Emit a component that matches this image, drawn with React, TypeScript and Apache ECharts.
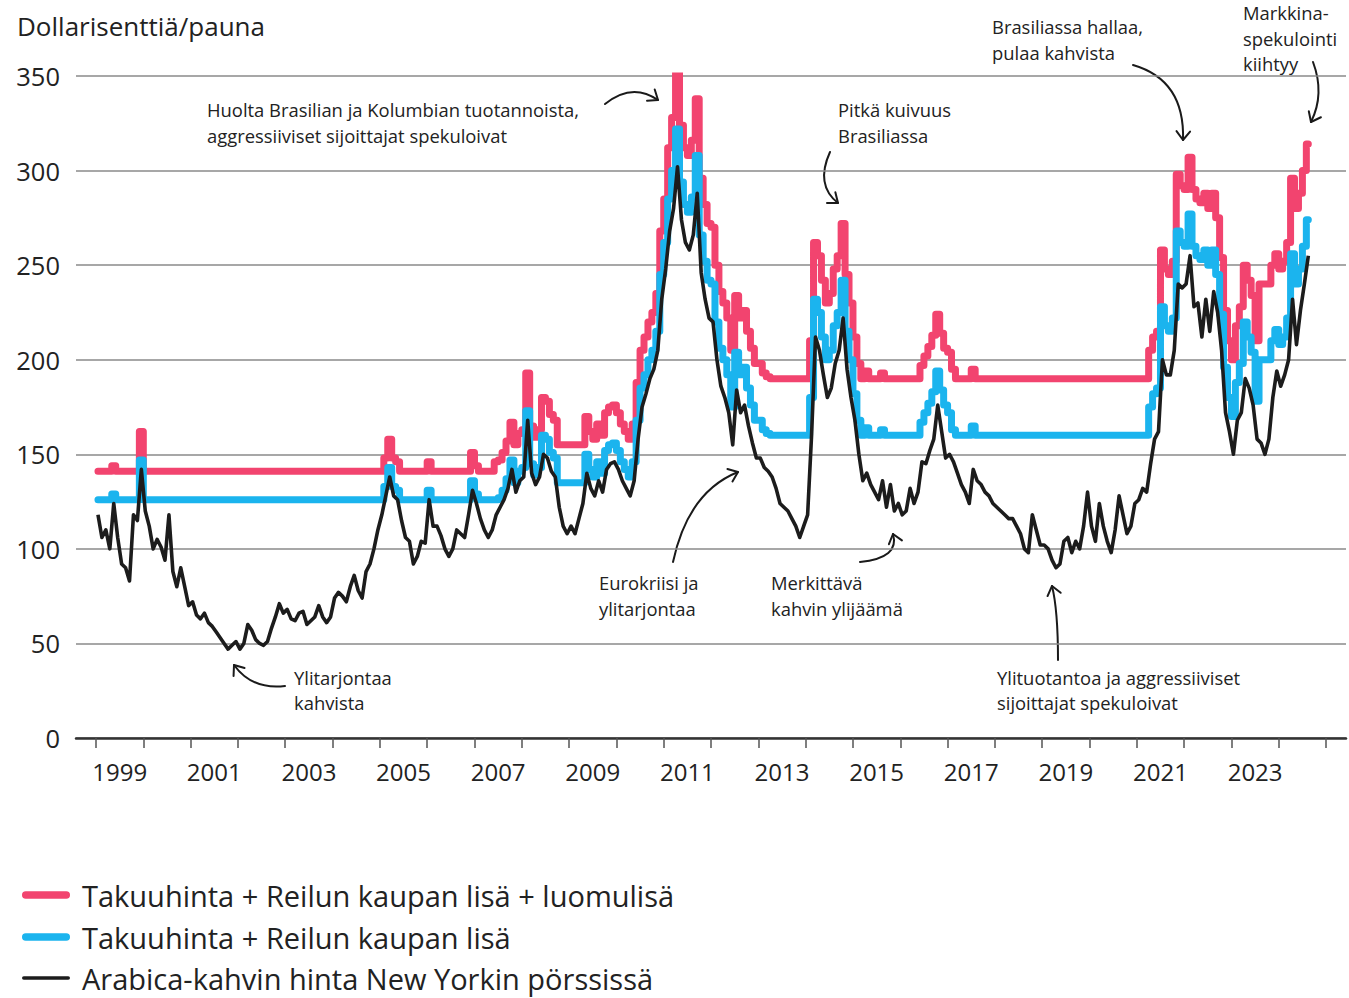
import React, { useEffect, useRef } from "react";
import * as echarts from "echarts";

// ---- data (cents per pound), monthly from January 1999 ----
const startYear = 1999;

const arabica = [
  118, 106, 110, 100, 124, 106, 92, 90, 83, 118, 115, 142, // 1999
  120, 112, 100, 105, 101, 94, 118, 88, 80, 90, 80, 70, // 2000
  72, 65, 63, 66, 61, 59, 56, 53, 50, 47, 49, 51, // 2001
  47, 50, 60, 57, 52, 50, 49, 51, 58, 64, 71, 66, // 2002
  68, 63, 62, 66, 67, 60, 62, 64, 70, 64, 61, 64, // 2003
  74, 77, 75, 72, 80, 86, 78, 74, 88, 92, 100, 110, // 2004
  118, 128, 138, 128, 126, 115, 106, 104, 92, 96, 104, 103, // 2005
  126, 112, 112, 107, 100, 96, 100, 110, 108, 106, 118, 131, // 2006
  124, 116, 110, 106, 110, 118, 122, 126, 132, 142, 130, 136, // 2007
  138, 168, 140, 134, 138, 150, 148, 141, 138, 122, 112, 108, // 2008
  112, 108, 116, 124, 140, 132, 128, 136, 130, 142, 145, 146, // 2009
  142, 136, 132, 128, 136, 158, 175, 182, 190, 195, 205, 232, // 2010
  248, 268, 280, 302, 274, 262, 258, 266, 288, 246, 232, 222, // 2011
  220, 200, 186, 180, 172, 155, 184, 172, 176, 165, 156, 148, // 2012
  148, 143, 141, 138, 132, 124, 122, 120, 116, 112, 106, 112, // 2013
  118, 160, 212, 205, 192, 180, 185, 198, 205, 222, 195, 180, // 2014
  168, 150, 136, 140, 134, 130, 126, 136, 122, 134, 120, 124, // 2015
  118, 120, 132, 124, 130, 146, 145, 152, 158, 176, 162, 148, // 2016
  150, 146, 140, 134, 130, 124, 142, 136, 134, 130, 128, 124, // 2017
  122, 120, 118, 116, 116, 112, 108, 100, 98, 118, 110, 102, // 2018
  102, 100, 94, 90, 92, 104, 106, 98, 104, 100, 112, 130, // 2019
  112, 104, 124, 112, 104, 98, 110, 128, 118, 108, 112, 124, // 2020
  126, 132, 130, 145, 158, 162, 200, 192, 192, 205, 240, 238, // 2021
  240, 255, 228, 230, 212, 232, 215, 236, 225, 205, 172, 162, // 2022
  150, 168, 172, 190, 185, 176, 158, 156, 150, 158, 180, 194, // 2023
  186, 192, 200, 232, 208, 226, 240, 255, // 2024
];

const fairtrade = [
  126, 126, 126, 126, 129, 126, 126, 126, 126, 126, 126, 147, // 1999
  126, 126, 126, 126, 126, 126, 126, 126, 126, 126, 126, 126, // 2000
  126, 126, 126, 126, 126, 126, 126, 126, 126, 126, 126, 126, // 2001
  126, 126, 126, 126, 126, 126, 126, 126, 126, 126, 126, 126, // 2002
  126, 126, 126, 126, 126, 126, 126, 126, 126, 126, 126, 126, // 2003
  126, 126, 126, 126, 126, 126, 126, 126, 126, 126, 126, 126, // 2004
  126, 133, 143, 133, 131, 126, 126, 126, 126, 126, 126, 126, // 2005
  131, 126, 126, 126, 126, 126, 126, 126, 126, 126, 126, 136, // 2006
  129, 126, 126, 126, 126, 126, 127, 131, 137, 147, 135, 141, // 2007
  143, 173, 145, 139, 143, 160, 158, 151, 148, 135, 135, 135, // 2008
  135, 135, 135, 135, 150, 142, 138, 146, 140, 152, 155, 156, // 2009
  152, 146, 142, 138, 146, 168, 185, 192, 200, 205, 215, 245, // 2010
  262, 285, 300, 322, 294, 282, 278, 286, 308, 266, 252, 242, // 2011
  240, 220, 206, 200, 192, 175, 204, 192, 196, 185, 176, 168, // 2012
  168, 163, 161, 160, 160, 160, 160, 160, 160, 160, 160, 160, // 2013
  160, 180, 232, 225, 212, 200, 205, 218, 225, 242, 215, 200, // 2014
  182, 168, 160, 164, 160, 160, 160, 163, 160, 160, 160, 160, // 2015
  160, 160, 160, 160, 160, 167, 172, 177, 183, 194, 184, 176, // 2016
  172, 163, 160, 160, 160, 160, 165, 160, 160, 160, 160, 160, // 2017
  160, 160, 160, 160, 160, 160, 160, 160, 160, 160, 160, 160, // 2018
  160, 160, 160, 160, 160, 160, 160, 160, 160, 160, 160, 160, // 2019
  160, 160, 160, 160, 160, 160, 160, 160, 160, 160, 160, 160, // 2020
  160, 160, 160, 175, 182, 185, 228, 218, 215, 222, 268, 262, // 2021
  260, 277, 260, 255, 253, 258, 250, 258, 245, 224, 196, 180, // 2022
  170, 188, 198, 220, 212, 204, 178, 200, 200, 200, 210, 216, // 2023
  208, 212, 222, 256, 240, 248, 260, 274, // 2024
];

const fairtradeOrganic = [
  141, 141, 141, 141, 144, 141, 141, 141, 141, 141, 141, 162, // 1999
  141, 141, 141, 141, 141, 141, 141, 141, 141, 141, 141, 141, // 2000
  141, 141, 141, 141, 141, 141, 141, 141, 141, 141, 141, 141, // 2001
  141, 141, 141, 141, 141, 141, 141, 141, 141, 141, 141, 141, // 2002
  141, 141, 141, 141, 141, 141, 141, 141, 141, 141, 141, 141, // 2003
  141, 141, 141, 141, 141, 141, 141, 141, 141, 141, 141, 141, // 2004
  141, 148, 158, 148, 146, 141, 141, 141, 141, 141, 141, 141, // 2005
  146, 141, 141, 141, 141, 141, 141, 141, 141, 141, 141, 151, // 2006
  144, 141, 141, 141, 141, 146, 147, 151, 157, 167, 155, 161, // 2007
  163, 193, 165, 159, 163, 180, 178, 171, 168, 155, 155, 155, // 2008
  155, 155, 155, 155, 170, 162, 158, 166, 160, 172, 175, 176, // 2009
  172, 166, 162, 158, 166, 188, 205, 212, 220, 225, 235, 268, // 2010
  285, 312, 328, 352, 324, 312, 308, 316, 338, 296, 282, 272, // 2011
  270, 250, 236, 230, 222, 205, 234, 222, 226, 215, 206, 198, // 2012
  198, 193, 191, 190, 190, 190, 190, 190, 190, 190, 190, 190, // 2013
  190, 210, 262, 255, 242, 230, 235, 248, 255, 272, 245, 230, // 2014
  212, 198, 190, 194, 190, 190, 190, 193, 190, 190, 190, 190, // 2015
  190, 190, 190, 190, 190, 197, 202, 207, 213, 224, 214, 206, // 2016
  204, 195, 190, 190, 190, 190, 195, 190, 190, 190, 190, 190, // 2017
  190, 190, 190, 190, 190, 190, 190, 190, 190, 190, 190, 190, // 2018
  190, 190, 190, 190, 190, 190, 190, 190, 190, 190, 190, 190, // 2019
  190, 190, 190, 190, 190, 190, 190, 190, 190, 190, 190, 190, // 2020
  190, 190, 190, 205, 212, 215, 258, 248, 245, 252, 298, 292, // 2021
  290, 307, 290, 285, 283, 288, 280, 288, 275, 254, 226, 210, // 2022
  200, 218, 228, 250, 242, 234, 210, 240, 240, 240, 250, 256, // 2023
  248, 252, 262, 296, 280, 288, 300, 314, // 2024
];

// year bands for the tick axis (ticks at each year start, labels on odd years)
const tickYears = [
  "1996", "1997", "1998", "1999", "2000", "2001", "2002", "2003", "2004", "2005",
  "2006", "2007", "2008", "2009", "2010", "2011", "2012", "2013", "2014", "2015",
  "2016", "2017", "2018", "2019", "2020", "2021", "2022", "2023", "2024", "2025",
];
const labelledYears = [
  "1999", "2001", "2003", "2005", "2007", "2009", "2011", "2013", "2015", "2017",
  "2019", "2021", "2023",
];
const firstTickYear = "1999";

const seriesNames = [
  "Takuuhinta + Reilun kaupan lisä + luomulisä",
  "Takuuhinta + Reilun kaupan lisä",
  "Arabica-kahvin hinta New Yorkin pörssissä",
];
const unitLabel = "Dollarisenttiä/pauna";

// annotation text blocks: left x and vertical middle of the block
const annotations = [
  { lines: ["Huolta Brasilian ja Kolumbian tuotannoista,", "aggressiiviset sijoittajat spekuloivat"], x: 207, mid: 122.5 },
  { lines: ["Pitkä kuivuus", "Brasiliassa"], x: 838, mid: 122.5 },
  { lines: ["Brasiliassa hallaa,", "pulaa kahvista"], x: 992, mid: 39.5 },
  { lines: ["Markkina-", "spekulointi", "kiihtyy"], x: 1243, mid: 38 },
  { lines: ["Ylitarjontaa", "kahvista"], x: 294, mid: 690 },
  { lines: ["Eurokriisi ja", "ylitarjontaa"], x: 599, mid: 595.5 },
  { lines: ["Merkittävä", "kahvin ylijäämä"], x: 771, mid: 595.5 },
  { lines: ["Ylituotantoa ja aggressiiviset", "sijoittajat spekuloivat"], x: 997, mid: 690 },
];

// arrows: start, control, end (quadratic curves)
const arrows = [
  [605, 104, 632, 82, 658, 100],
  [830, 152, 815, 185, 838, 203],
  [1133, 65, 1185, 80, 1183, 140],
  [1313, 62, 1325, 94, 1311, 122],
  [285, 686, 252, 690, 234, 665],
  [673, 562, 688, 492, 738, 472],
  [860, 562, 900, 558, 893, 534],
  [1058, 660, 1058, 610, 1052, 586],
];

const COLORS = { pink: "#f2446f", blue: "#1bb4ee", black: "#1c1c1c" };
const FONT = "Open Sans";
const NOTE_SIZE = 18.4;
const NOTE_LH = 25.2;
const PX_PER_YEAR = 47.31;
const X0 = 96; // pixel of 1999 start
const GRID_LEFT = 76;
const GRID_RIGHT_PX = 1346;

function toSeries(values: number[]) {
  return values.map((v, i) => [startYear + (i + 0.5) / 12, v]);
}

function arrowHead(cx: number, cy: number, ex: number, ey: number) {
  const dx = ex - cx;
  const dy = ey - cy;
  const len = Math.sqrt(dx * dx + dy * dy) || 1;
  const ux = dx / len;
  const uy = dy / len;
  const L = 11;
  const a = (38 * Math.PI) / 180;
  const cos = Math.cos(a);
  const sin = Math.sin(a);
  const p1 = [ex - L * (ux * cos - uy * sin), ey - L * (uy * cos + ux * sin)];
  const p2 = [ex - L * (ux * cos + uy * sin), ey - L * (uy * cos - ux * sin)];
  return [p1, [ex, ey], p2];
}

export default function App() {
  const ref = useRef<HTMLDivElement>(null);

  useEffect(() => {
    if (!ref.current) return;
    const chart = echarts.init(ref.current, undefined, { renderer: "svg" });

    const xMin = 1999 - (X0 - GRID_LEFT) / PX_PER_YEAR;
    const xMax = 2025 + (GRID_RIGHT_PX - (X0 + 26 * PX_PER_YEAR)) / PX_PER_YEAR;
    const firstIdx = tickYears.indexOf(firstTickYear);
    const catLeft = X0 - firstIdx * PX_PER_YEAR;
    const catRight = 1349 - (catLeft + tickYears.length * PX_PER_YEAR);

    const graphics: any[] = [];
    annotations.forEach((a) => {
      const n = a.lines.length;
      a.lines.forEach((line, i) => {
        graphics.push({
          type: "text",
          x: a.x,
          y: a.mid + (i - (n - 1) / 2) * NOTE_LH,
          silent: true,
          style: {
            text: line,
            font: `${NOTE_SIZE}px "${FONT}"`,
            fill: "#222",
            verticalAlign: "middle",
            align: "left",
          },
        });
      });
    });
    arrows.forEach((p) => {
      graphics.push({
        type: "bezierCurve",
        silent: true,
        shape: { x1: p[0], y1: p[1], cpx1: p[2], cpy1: p[3], x2: p[4], y2: p[5] },
        style: { stroke: "#1a1a1a", lineWidth: 2, fill: null, lineCap: "round" },
      });
      graphics.push({
        type: "polyline",
        silent: true,
        shape: { points: arrowHead(p[2], p[3], p[4], p[5]) },
        style: { stroke: "#1a1a1a", lineWidth: 2, fill: null, lineCap: "round", lineJoin: "round" },
      });
    });
    const legendRows = [
      { name: seriesNames[0], color: COLORS.pink, w: 7.5, y: 895 },
      { name: seriesNames[1], color: COLORS.blue, w: 7.5, y: 937 },
      { name: seriesNames[2], color: COLORS.black, w: 3.5, y: 978 },
    ];
    legendRows.forEach((r) => {
      graphics.push({
        type: "line",
        silent: true,
        shape: { x1: 22 + r.w / 2, y1: r.y, x2: 70 - r.w / 2, y2: r.y },
        style: { stroke: r.color, lineWidth: r.w, lineCap: "round" },
      });
      graphics.push({
        type: "text",
        x: 82,
        y: r.y,
        silent: true,
        style: {
          text: r.name,
          font: `29px "${FONT}"`,
          fill: "#222",
          verticalAlign: "middle",
          align: "left",
        },
      });
    });

    const option: any = {
      animation: false,
      backgroundColor: "#fff",
      textStyle: { fontFamily: FONT },
      title: {
        text: unitLabel,
        left: 12,
        top: 8,
        textStyle: { fontFamily: FONT, fontSize: 26, fontWeight: "normal", color: "#222" },
      },
      grid: [
        { left: GRID_LEFT, right: 1349 - GRID_RIGHT_PX, top: 76, bottom: 260, outerBoundsMode: "none" },
        { left: catLeft, right: catRight, top: 76, bottom: 260, outerBoundsMode: "none" },
      ],
      xAxis: [
        {
          type: "value",
          gridIndex: 0,
          min: xMin,
          max: xMax,
          axisLine: { show: true, onZero: false, lineStyle: { color: "#333", width: 2.5 } },
          axisTick: { show: false },
          axisLabel: { show: false },
          splitLine: { show: false },
        },
        {
          type: "category",
          gridIndex: 1,
          data: tickYears,
          boundaryGap: true,
          axisLine: { show: false },
          axisTick: {
            show: true,
            length: 10,
            interval: (i: number) => i >= firstIdx,
            lineStyle: { color: "#555", width: 1.5 },
          },
          axisLabel: {
            interval: (_i: number, v: string) => labelledYears.indexOf(v) >= 0,
            fontFamily: FONT,
            fontSize: 24,
            color: "#222",
            margin: 21,
          },
          splitLine: { show: false },
        },
      ],
      yAxis: [
        {
          type: "value",
          gridIndex: 0,
          min: 0,
          max: 350,
          interval: 50,
          axisLine: { show: false },
          axisTick: { show: false },
          axisLabel: { fontFamily: FONT, fontSize: 25.5, color: "#222", margin: 16 },
          splitLine: { show: true, lineStyle: { color: "#8a8a8a", width: 1.5 } },
        },
        { type: "value", gridIndex: 1, min: 0, max: 350, show: false },
      ],
      series: [
        {
          name: seriesNames[0],
          type: "line",
          xAxisIndex: 0,
          yAxisIndex: 0,
          data: toSeries(fairtradeOrganic),
          step: "middle",
          showSymbol: false,
          symbol: "none",
          lineStyle: { color: COLORS.pink, width: 7, join: "round", cap: "round" },
          silent: true,
          z: 2,
        },
        {
          name: seriesNames[1],
          type: "line",
          xAxisIndex: 0,
          yAxisIndex: 0,
          data: toSeries(fairtrade),
          step: "middle",
          showSymbol: false,
          symbol: "none",
          lineStyle: { color: COLORS.blue, width: 7, join: "round", cap: "round" },
          silent: true,
          z: 3,
        },
        {
          name: seriesNames[2],
          type: "line",
          xAxisIndex: 0,
          yAxisIndex: 0,
          data: toSeries(arabica),
          showSymbol: false,
          symbol: "none",
          lineStyle: { color: COLORS.black, width: 3.6, join: "round" },
          silent: true,
          z: 4,
        },
      ],
      graphic: graphics,
    };

    chart.setOption(option);
    return () => chart.dispose();
  }, []);

  return (
    <div
      ref={ref}
      style={{ position: "absolute", left: 0, top: 0, width: 1349, height: 998 }}
    />
  );
}
